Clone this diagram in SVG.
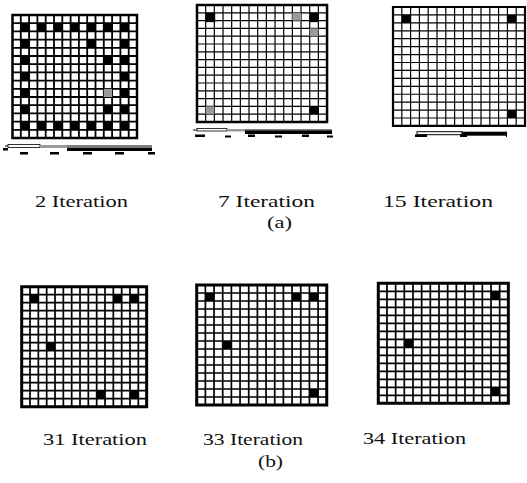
<svg xmlns="http://www.w3.org/2000/svg" width="527" height="483" viewBox="0 0 527 483">
<style>
.gl{fill:none;stroke:#000}
.bd{fill:none;stroke:#000}
.blk{fill:#000}
.hat{fill:#9a9a9a}
.lbl{font-family:"Liberation Serif","Times New Roman",serif;font-size:17px;fill:#111}
</style>
<defs>
<path id="gl" vector-effect="non-scaling-stroke" d="M1 0V15M2 0V15M3 0V15M4 0V15M5 0V15M6 0V15M7 0V15M8 0V15M9 0V15M10 0V15M11 0V15M12 0V15M13 0V15M14 0V15M0 1H15M0 2H15M0 3H15M0 4H15M0 5H15M0 6H15M0 7H15M0 8H15M0 9H15M0 10H15M0 11H15M0 12H15M0 13H15M0 14H15"/>
<rect id="bdr" x="0" y="0" width="15" height="15" vector-effect="non-scaling-stroke"/>
</defs>
<rect width="527" height="483" fill="#fff"/>

<g id="grid1" transform="translate(12.5 15) scale(8.3 8.2)">
<use href="#gl" class="gl" style="stroke-width:1.8"/>
<g class="blk">
<rect x="1" y="1" width="1" height="1"/><rect x="3" y="1" width="1" height="1"/><rect x="5" y="1" width="1" height="1"/><rect x="7" y="1" width="1" height="1"/><rect x="9" y="1" width="1" height="1"/><rect x="11" y="1" width="1" height="1"/><rect x="13" y="1" width="1" height="1"/>
<rect x="1" y="13" width="1" height="1"/><rect x="3" y="13" width="1" height="1"/><rect x="5" y="13" width="1" height="1"/><rect x="7" y="13" width="1" height="1"/><rect x="9" y="13" width="1" height="1"/><rect x="11" y="13" width="1" height="1"/><rect x="13" y="13" width="1" height="1"/>
<rect x="1" y="3" width="1" height="1"/><rect x="1" y="5" width="1" height="1"/><rect x="1" y="7" width="1" height="1"/><rect x="1" y="9" width="1" height="1"/><rect x="1" y="11" width="1" height="1"/>
<rect x="13" y="3" width="1" height="1"/><rect x="13" y="5" width="1" height="1"/><rect x="13" y="7" width="1" height="1"/><rect x="13" y="9" width="1" height="1"/><rect x="13" y="11" width="1" height="1"/>
<rect x="9" y="3" width="1" height="1"/><rect x="11" y="5" width="1" height="1"/><rect x="11" y="11" width="1" height="1"/>
</g>
<rect x="11" y="9" width="1" height="1" class="hat"/>
<use href="#bdr" class="bd" style="stroke-width:2.5"/>
</g>

<g id="grid2" transform="translate(197 5) scale(8.67 7.8)">
<use href="#gl" class="gl" style="stroke-width:1.2"/>
<g class="blk">
<rect x="1" y="1" width="1.1" height="1.2"/><rect x="13" y="1" width="1" height="1.2"/><rect x="13" y="13" width="1" height="1"/>
</g>
<g class="hat">
<rect x="11" y="1" width="1" height="1"/><rect x="13" y="3" width="1" height="1"/><rect x="1" y="13" width="1" height="1"/>
</g>
<use href="#bdr" class="bd" style="stroke-width:2.5"/>
</g>

<g id="grid3" transform="translate(393 7) scale(8.8 7.93)">
<use href="#gl" class="gl" style="stroke-width:1.2"/>
<g class="blk">
<rect x="1" y="1" width="1" height="1"/><rect x="13" y="1" width="1" height="1"/><rect x="13" y="13" width="1" height="1"/>
</g>
<use href="#bdr" class="bd" style="stroke-width:2.2"/>
</g>

<g id="grid4" transform="translate(21.7 286.7) scale(8.33 8)">
<use href="#gl" class="gl" style="stroke-width:1.7"/>
<g class="blk">
<rect x="1" y="1" width="1" height="1"/><rect x="11" y="1" width="1" height="1"/><rect x="13" y="1" width="1" height="1"/><rect x="3" y="7" width="1" height="1"/><rect x="9" y="13" width="1" height="1"/><rect x="13" y="13" width="1" height="1"/>
</g>
<use href="#bdr" class="bd" style="stroke-width:3"/>
</g>

<g id="grid5" transform="translate(196.7 285) scale(8.67 8)">
<use href="#gl" class="gl" style="stroke-width:1.7"/>
<g class="blk">
<rect x="1" y="1" width="1" height="1"/><rect x="11" y="1" width="1" height="1"/><rect x="13" y="1" width="1" height="1"/><rect x="3" y="7" width="1" height="1"/><rect x="13" y="13" width="1" height="1"/>
</g>
<use href="#bdr" class="bd" style="stroke-width:3"/>
</g>

<g id="grid6" transform="translate(378.3 283.3) scale(8.67 8)">
<use href="#gl" class="gl" style="stroke-width:1.7"/>
<g class="blk">
<rect x="13" y="1" width="1" height="1"/><rect x="3" y="7" width="1" height="1"/><rect x="13" y="13" width="1" height="1"/>
</g>
<use href="#bdr" class="bd" style="stroke-width:3"/>
</g>

<g id="bar1">
<line x1="5" y1="146" x2="152" y2="146" stroke="#000" stroke-width="1"/>
<rect x="8" y="144.5" width="32" height="3" fill="#fff" stroke="#000" stroke-width="0.8"/>
<rect x="40" y="145" width="27" height="3" fill="#9a9a9a"/>
<rect x="67" y="147.5" width="85" height="3.5" fill="#000"/>
<rect x="3" y="148" width="5" height="2.5" fill="#000"/>
<rect x="20" y="152" width="8" height="2.5" fill="#000"/>
<rect x="50" y="152" width="9" height="2.5" fill="#000"/>
<rect x="83" y="152" width="9" height="2.5" fill="#000"/>
<rect x="115" y="152" width="9" height="2.5" fill="#000"/>
<rect x="148" y="152" width="7" height="2.5" fill="#000"/>
</g>
<g id="bar2">
<line x1="193" y1="130" x2="332" y2="130" stroke="#000" stroke-width="1"/>
<rect x="197" y="128.5" width="30" height="2.5" fill="#fff" stroke="#000" stroke-width="0.8"/>
<rect x="227" y="129" width="18" height="2.5" fill="#9a9a9a"/>
<rect x="245" y="130.5" width="87" height="3.5" fill="#000"/>
<rect x="195" y="134.5" width="10" height="2.5" fill="#000"/>
<rect x="225" y="135.5" width="6" height="2" fill="#000"/>
<rect x="248" y="134.5" width="7" height="2.5" fill="#000"/>
<rect x="275" y="135.5" width="7" height="2" fill="#000"/>
<rect x="302" y="134.5" width="7" height="2.5" fill="#000"/>
<rect x="327" y="135.5" width="6" height="2" fill="#000"/>
</g>
<g id="bar3">
<rect x="417" y="131.7" width="45" height="3" fill="#fff" stroke="#000" stroke-width="1"/>
<rect x="462" y="131.7" width="45" height="4" fill="#000"/>
<line x1="506.5" y1="131.7" x2="506.5" y2="137" stroke="#000" stroke-width="1"/>
<rect x="415" y="134.5" width="12" height="2.5" fill="#000"/>
<rect x="460" y="134.5" width="7" height="2.5" fill="#000"/>
</g>

<g id="labels" class="lbl">
<text x="35" y="207" textLength="93" lengthAdjust="spacingAndGlyphs">2  Iteration</text>
<text x="218" y="207" textLength="97" lengthAdjust="spacingAndGlyphs">7  Iteration</text>
<text x="383" y="207" textLength="110" lengthAdjust="spacingAndGlyphs">15  Iteration</text>
<text x="267" y="228" textLength="25" lengthAdjust="spacingAndGlyphs">(a)</text>
<text x="43" y="445" textLength="104" lengthAdjust="spacingAndGlyphs">31  Iteration</text>
<text x="203" y="445" textLength="100" lengthAdjust="spacingAndGlyphs">33  Iteration</text>
<text x="363" y="444" textLength="103" lengthAdjust="spacingAndGlyphs">34  Iteration</text>
<text x="258" y="467" textLength="25" lengthAdjust="spacingAndGlyphs">(b)</text>
</g>
</svg>
